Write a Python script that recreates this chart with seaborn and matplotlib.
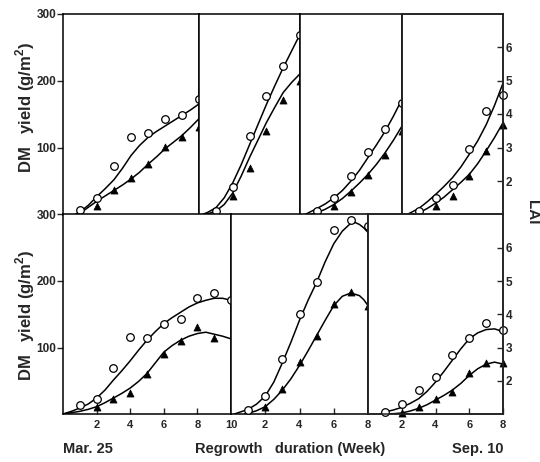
import numpy as np
import matplotlib
matplotlib.use("Agg")
import matplotlib.pyplot as plt
import seaborn as sns

# 관측값 (주차, DM yield g/m2) - 열린 원 / 검은 삼각형
t1_weeks = [1, 2, 3, 4, 5, 6, 7, 8]
t1_open = [6, 24, 72, 115, 121, 143, 149, 172]
t1_fill = [np.nan, 12, 37, 55, 76, 101, 115, 130]
t2_weeks = [1, 2, 3, 4, 5, 6]
t2_open = [5, 41, 117, 177, 222, 268]
t2_fill = [np.nan, 27, 69, 124, 171, 200]
t3_weeks = [1, 2, 3, 4, 5, 6]
t3_open = [5, 25, 58, 93, 128, 167]
t3_fill = [np.nan, 12, 33, 59, 89, 124]
t4_weeks = [1, 2, 3, 4, 5, 6]
t4_open = [5, 25, 44, 98, 155, 178]
t4_fill = [np.nan, 12, 27, 58, 95, 133]
b1_weeks = [1, 2, 3, 4, 5, 6, 7, 8, 9, 10]
b1_open = [14, 22, 69, 116, 114, 136, 143, 175, 182, 172]
b1_fill = [np.nan, 10, 22, 32, 60, 90, 110, 131, 115, np.nan]
b2_weeks = [1, 2, 3, 4, 5, 6, 7, 8]
b2_open = [6, 27, 82, 150, 198, 277, 292, 282]
b2_fill = [np.nan, 11, 38, 78, 118, 166, 183, 163]
b3_weeks = [1, 2, 3, 4, 5, 6, 7, 8]
b3_open = [3.5, 15, 36, 56, 89, 115, 137, 126]
b3_fill = [np.nan, 2, 10, 22, 33, 61, 77, 76]

# 곡선 (그림에서 읽은 값, 0.5주 간격)
t1_cx_open = [0.7, 1, 1.5, 2, 2.5, 3, 3.5, 4, 4.5, 5, 5.5, 6, 6.5, 7, 7.5, 8]
t1_c_open = [0, 4, 14, 27, 39, 52, 69, 88, 103, 115, 124, 132, 140, 148, 156, 165]
t1_cx_fill = [0.9, 1.5, 2, 2.5, 3, 3.5, 4, 4.5, 5, 5.5, 6, 6.5, 7, 7.5, 8]
t1_c_fill = [0, 11, 20, 28, 36, 44, 53, 63, 75, 86, 98, 108, 118, 130, 143]
t2_cx_open = [0.2, 0.5, 1, 1.5, 2, 2.5, 3, 3.5, 4, 4.5, 5, 5.5, 6]
t2_c_open = [0, 3, 10, 25, 47, 74, 104, 134, 164, 192, 219, 244, 269]
t2_cx_fill = [0.4, 1, 1.5, 2, 2.5, 3, 3.5, 4, 4.5, 5, 5.5, 6]
t2_c_fill = [0, 5, 15, 32, 57, 85, 111, 137, 160, 182, 197, 210]
t3_cx_open = [0.3, 1, 1.5, 2, 2.5, 3, 3.5, 4, 4.5, 5, 5.5, 6]
t3_c_open = [0, 9, 16, 25, 36, 50, 66, 85, 104, 124, 147, 172]
t3_cx_fill = [0.6, 1, 1.5, 2, 2.5, 3, 3.5, 4, 4.5, 5, 5.5, 6]
t3_c_fill = [0, 2.5, 8, 15, 24, 35, 47, 60, 75, 92, 111, 132]
t4_cx_open = [0.3, 1, 1.5, 2, 2.5, 3, 3.5, 4, 4.5, 5, 5.5, 6]
t4_c_open = [0, 9, 19, 30, 42, 55, 71, 90, 110, 134, 163, 196]
t4_cx_fill = [0.5, 1, 1.5, 2, 2.5, 3, 3.5, 4, 4.5, 5, 5.5, 6]
t4_c_fill = [0, 2.5, 9, 17, 26, 37, 48, 60, 76, 95, 115, 137]
b1_cx_open = [0, 0.5, 1, 1.5, 2, 2.5, 3, 3.5, 4, 4.5, 5, 5.5, 6, 6.5, 7, 7.5, 8, 8.5, 9, 9.5, 10]
b1_c_open = [0, 4, 9, 15, 24, 36, 51, 65, 80, 96, 111, 124, 136, 145, 153, 161, 167, 171, 174, 174, 171]
b1_cx_fill = [0, 1, 1.5, 2, 2.5, 3, 3.5, 4, 4.5, 5, 5.5, 6, 6.5, 7, 7.5, 8, 8.5, 9, 9.5, 10]
b1_c_fill = [0, 4, 7, 11, 17, 24, 31, 39, 49, 61, 77, 93, 103, 111, 117, 121, 123, 120, 117, 113]
b2_cx_open = [0.2, 1, 1.5, 2, 2.5, 3, 3.5, 4, 4.5, 5, 5.5, 6, 6.5, 7, 7.25, 7.5, 7.75, 8]
b2_c_open = [0, 7, 15, 27, 48, 77, 108, 141, 171, 198, 229, 256, 275, 287, 288, 285, 280, 273]
b2_cx_fill = [0.8, 1, 1.5, 2, 2.5, 3, 3.5, 4, 4.5, 5, 5.5, 6, 6.5, 7, 7.5, 7.75, 8]
b2_c_fill = [0, 1, 5, 11, 22, 36, 53, 73, 95, 118, 141, 163, 177, 182, 178, 172, 163]
b3_cx_open = [0.7, 1, 1.5, 2, 2.5, 3, 3.5, 4, 4.5, 5, 5.5, 6, 6.5, 7, 7.5, 7.75, 8]
b3_c_open = [0, 3, 6, 10, 16, 23, 34, 48, 64, 81, 98, 113, 122, 127, 128, 126, 121]
b3_cx_fill = [1, 1.5, 2, 2.5, 3, 3.5, 4, 4.5, 5, 5.5, 6, 6.5, 7, 7.5, 8]
b3_c_fill = [0, 0.5, 1.5, 4.5, 8.5, 14, 21, 28, 36, 46, 58, 68, 75, 78, 75]

lai_ticks = [2, 3, 4, 5, 6]
dm_ticks = [100, 200, 300]

sns.set_style("ticks")
plt.rcParams['font.family'] = ['Liberation Sans', 'DejaVu Sans']
plt.rcParams['font.weight'] = 'bold'

W, H = 540, 462
fig = plt.figure(figsize=(5.4, 4.62), dpi=100)


def add_ax(x0, y0, x1, y1):
    return fig.add_axes([x0 / W, 1 - y1 / H, (x1 - x0) / W, (y1 - y0) / H])


def draw_panel(ax, weeks, open_y, fill_y, cxo, cyo, cxf, cyf, xmax):
    sns.lineplot(x=cxo, y=cyo, ax=ax, color='black', linewidth=1.1)
    sns.lineplot(x=cxf, y=cyf, ax=ax, color='black', linewidth=1.1)
    sns.scatterplot(x=weeks, y=open_y, ax=ax, marker='o', s=30,
                    facecolor='white', edgecolor='black', linewidth=0.9,
                    zorder=4, clip_on=False)
    sns.scatterplot(x=weeks, y=fill_y, ax=ax, marker='^', s=26,
                    color='black', edgecolor='black', linewidth=0.5,
                    zorder=4, clip_on=False)
    ax.set_xlim(0, xmax)
    ax.set_ylim(0, 300)
    ax.set_xlabel('')
    ax.set_ylabel('')
    for sp in ax.spines.values():
        sp.set_visible(True)
        sp.set_linewidth(1.1)
        sp.set_color('black')
    ax.set_yticks([])


top_row = [
    ((63, 13.5, 199, 214.5), 8, t1_weeks, t1_open, t1_fill, t1_cx_open, t1_c_open, t1_cx_fill, t1_c_fill),
    ((199, 13.5, 300, 214.5), 6, t2_weeks, t2_open, t2_fill, t2_cx_open, t2_c_open, t2_cx_fill, t2_c_fill),
    ((300, 13.5, 402, 214.5), 6, t3_weeks, t3_open, t3_fill, t3_cx_open, t3_c_open, t3_cx_fill, t3_c_fill),
    ((402, 13.5, 503, 214.5), 6, t4_weeks, t4_open, t4_fill, t4_cx_open, t4_c_open, t4_cx_fill, t4_c_fill),
]
bottom_row = [
    ((63, 214.5, 231, 414), 10, b1_weeks, b1_open, b1_fill, b1_cx_open, b1_c_open, b1_cx_fill, b1_c_fill),
    ((231, 214.5, 368, 414), 8, b2_weeks, b2_open, b2_fill, b2_cx_open, b2_c_open, b2_cx_fill, b2_c_fill),
    ((368, 214.5, 503, 414), 8, b3_weeks, b3_open, b3_fill, b3_cx_open, b3_c_open, b3_cx_fill, b3_c_fill),
]

for row_i, row in enumerate([top_row, bottom_row]):
    for i, (pos, xmax, wk, yo, yf, cxo, cyo, cxf, cyf) in enumerate(row):
        ax = add_ax(*pos)
        draw_panel(ax, wk, yo, yf, cxo, cyo, cxf, cyf, xmax)
        if row_i == 0:
            ax.set_xticks([])
        else:
            ticks = [t for t in [2, 4, 6, 8, 10] if t <= xmax]
            ax.set_xticks(ticks)
            ax.set_xticklabels([str(t) for t in ticks], fontsize=8, fontweight='bold')
            ax.tick_params(axis='x', direction='in', length=4, width=1, pad=4)
        if i == 0:
            ax.set_yticks(dm_ticks)
            ax.set_yticklabels([str(t) for t in dm_ticks], fontsize=8.5, fontweight='bold')
            ax.tick_params(axis='y', direction='out', length=4, width=1, pad=1)
        if i == len(row) - 1:
            ax2 = ax.twinx()
            ax2.set_ylim(1, 7)
            ax2.set_yticks(lai_ticks)
            ax2.set_yticklabels([str(t) for t in lai_ticks], fontsize=8.5, fontweight='bold')
            ax2.tick_params(axis='y', direction='in', length=4, width=1, pad=2)
            for sp in ax2.spines.values():
                sp.set_linewidth(1.1)

# 축 제목
ylab = 'DM   yield (g/m$^\\mathregular{2}$)'
fig.text(25 / W, 1 - 107 / H, ylab, rotation=90, ha='center', va='center', fontsize=12, fontweight='bold')
fig.text(25 / W, 1 - 315 / H, ylab, rotation=90, ha='center', va='center', fontsize=12, fontweight='bold')
fig.text(532 / W, 1 - 212 / H, 'LAI', rotation=-90, ha='center', va='center', fontsize=11, fontweight='bold')
fig.text(63 / W, 1 - 449 / H, 'Mar. 25', ha='left', va='center', fontsize=10.5, fontweight='bold')
fig.text(290 / W, 1 - 449 / H, 'Regrowth   duration (Week)', ha='center', va='center', fontsize=10.5, fontweight='bold')
fig.text(503 / W, 1 - 449 / H, 'Sep. 10', ha='right', va='center', fontsize=10.5, fontweight='bold')

fig.savefig('out.png', dpi=100)
